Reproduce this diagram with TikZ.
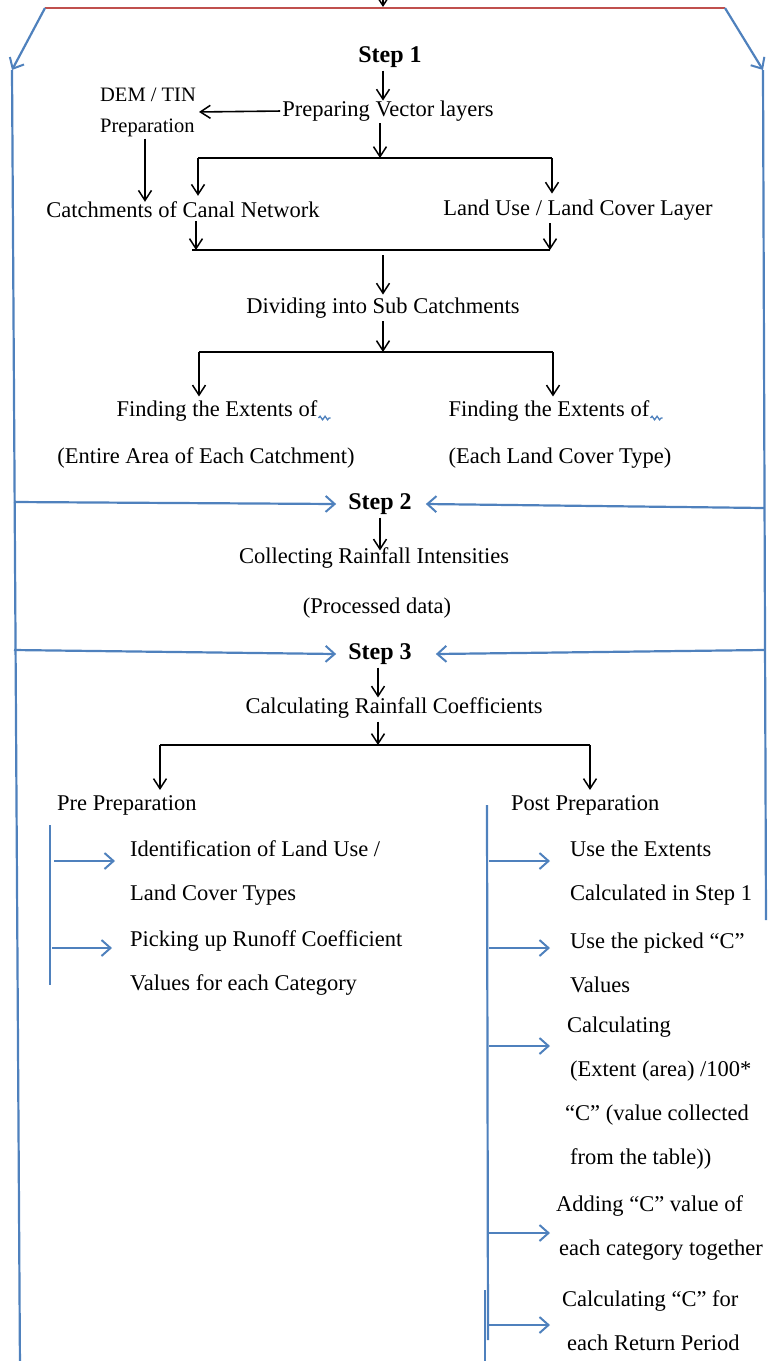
\documentclass[tikz,border=0pt]{standalone}
\usepackage{fontspec}
\setmainfont{Liberation Serif}
\usetikzlibrary{arrows.meta,decorations.pathmorphing}
\definecolor{flowblue}{RGB}{79,129,189}
\definecolor{flowred}{RGB}{192,80,77}

\begin{document}
\begin{tikzpicture}[x=1pt,y=-1pt,
  txt/.style={inner sep=0pt, yshift=-3pt, font=\fontsize{22.5}{44}\selectfont},
  txtl/.style={txt, anchor=west, align=left},
  stepbox/.style={inner sep=0pt, yshift=-2pt, font=\fontsize{24}{28}\selectfont\bfseries},
  arr/.style={line width=1.6pt, -{Straight Barb[length=10pt,width=13pt,line width=1.5pt]}},
  bar/.style={line width=2.4pt},
  barrow/.style={flowblue, line width=2.2pt, -{Straight Barb[length=9pt,width=16pt,line width=2pt]}},
  bline/.style={flowblue, line width=2.2pt},
  squig/.style={flowblue, line width=1.3pt, decorate, decoration={snake, amplitude=1.8pt, segment length=5pt}},
]
\useasboundingbox (0,0) rectangle (768,1361);

% ---------- text ----------
\node[stepbox] (step1) at (390,55) {Step 1};
\node[txt] (prep) at (388,108) {Preparing Vector layers};
\node[txt, align=left, font=\fontsize{20.5}{31}\selectfont] (dem) at (148,109) {DEM / TIN\\Preparation};
\node[txt] (catch) at (183,207) {Catchments of Canal Network};
\node[txt] (lulc) at (578,207) {Land Use / Land Cover Layer};
\node[txt] (divide) at (383,305) {Dividing into Sub Catchments};
\node[txt] (findL) at (217,408) {Finding the Extents of};
\node[txt] (findR) at (549,408) {Finding the Extents of};
\node[txt] (areaL) at (206,455) {(Entire Area of Each Catchment)};
\node[txt] (areaR) at (560,455) {(Each Land Cover Type)};
\node[stepbox] (step2) at (380,502) {Step 2};
\node[txt] (collect) at (374,555) {Collecting Rainfall Intensities};
\node[txt] (processed) at (377,605) {(Processed data)};
\node[stepbox] (step3) at (380,652) {Step 3};
\node[txt] (calc) at (394,705) {Calculating Rainfall Coefficients};
\node[txtl] (pre) at (57,802) {Pre Preparation};
\node[txtl] (post) at (511,802) {Post Preparation};
\node[txtl] (pre1) at (130,870) {Identification of Land Use /\\Land Cover Types};
\node[txtl] (pre2) at (130,960) {Picking up Runoff Coefficient\\Values for each Category};
\node[txtl] (post1) at (570,870) {Use the Extents\\Calculated in Step 1};
\node[txtl] (post2) at (570,960) {Use the picked “C”\\Values};
\node[txtl] (post3) at (565,1090) {\hspace*{2pt}Calculating\\\hspace*{5pt}(Extent (area) /100*\\“C” (value collected\\\hspace*{5pt}from the table))};
\node[txtl] (post4) at (556,1225) {Adding “C” value of\\\hspace*{3pt}each category together};
\node[txtl] (post5) at (562,1318) {Calculating “C” for\\\hspace*{5pt}each Return Period};

% spelling marks after "of"
\draw[squig] ([xshift=1pt,yshift=-7pt]findL.east) -- ++(12,0);
\draw[squig] ([xshift=1pt,yshift=-7pt]findR.east) -- ++(12,0);

% ---------- outer frame ----------
\coordinate (cx) at (383,0);
\coordinate (topin) at (383,-12);
\coordinate (topout) at (383,7);
\coordinate (redL) at (45,8);
\coordinate (redR) at (725,8);
\coordinate (lTop) at (12,70);
\coordinate (lBot) at (20,1370);
\coordinate (rTop) at (763,70);
\coordinate (rBot) at (766,920);
\draw[arr] (topin) -- (topout);
\draw[flowred, line width=2.4pt] (redL) -- (redR);
\draw[barrow] (redL) -- (lTop);
\draw[barrow] (redR) -- (rTop);
\draw[bline] (lTop) -- (lBot);
\draw[bline] (rTop) -- (rBot);

\coordinate (l2) at (14,502);
\coordinate (r2) at (764,508);
\coordinate (l3) at (14,650);
\coordinate (r3) at (764,650);
\draw[barrow] (l2) -- ([xshift=-12pt]step2.west);
\draw[barrow] (r2) -- ([xshift=14pt]step2.east);
\draw[barrow] (l3) -- ([xshift=-12pt]step3.west);
\draw[barrow] (r3) -- ([xshift=24pt]step3.east);

% ---------- step 1 ----------
\draw[arr, shorten <=3pt] (step1.south -| cx) -- (prep.north -| cx);
\draw[arr, shorten <=2pt, shorten >=3pt] (prep.west) -- (dem.east);
\draw[arr, shorten <=2pt] ([xshift=-3pt]dem.south) -- ([xshift=-3pt]dem.south |- catch.north);

\coordinate (b1l) at (198,158);
\coordinate (b1r) at (552,158);
\coordinate (b1m) at (380,158);
\draw[arr, shorten <=2pt] (prep.south -| b1m) -- (b1m);
\draw[bar] (b1l) -- (b1r);
\draw[arr, shorten >=6pt] (b1l) -- (b1l |- catch.north);
\draw[arr, shorten >=6pt] (b1r) -- (b1r |- lulc.north);

\coordinate (b2l) at (196,250);
\coordinate (b2r) at (550,250);
\draw[arr, shorten <=3pt] (catch.south -| b2l) -- (b2l);
\draw[arr, shorten <=3pt] (lulc.south -| b2r) -- (b2r);
\draw[bar] ([xshift=-4pt]b2l) -- (b2r);
\draw[arr, shorten <=5pt, shorten >=3pt] (b2l -| cx) -- (divide.north -| cx);

\coordinate (b3l) at (199,352);
\coordinate (b3r) at (553,352);
\draw[arr, shorten <=3pt] (divide.south -| cx) -- (b3l -| cx);
\draw[bar] (b3l) -- (b3r);
\draw[arr, shorten >=4pt] (b3l) -- (b3l |- findL.north);
\draw[arr, shorten >=4pt] (b3r) -- (b3r |- findR.north);

% ---------- step 2 and 3 ----------
\draw[arr, shorten <=3pt, shorten >=-3pt] (step2.south) -- (step2.south |- collect.north);
\draw[arr, shorten <=3pt] ([xshift=-2pt]step3.south) -- ([xshift=-2pt]step3.south |- calc.north);

\coordinate (b4l) at (160,745);
\coordinate (b4r) at (590,745);
\coordinate (b4m) at (378,745);
\draw[arr, shorten <=3pt] (calc.south -| b4m) -- (b4m);
\draw[bar] (b4l) -- (b4r);
\draw[arr, shorten >=5pt] (b4l) -- (b4l |- pre.north);
\draw[arr, shorten >=5pt] (b4r) -- (b4r |- post.north);

% ---------- pre preparation ----------
\coordinate (pl1) at (50,825);
\coordinate (pl2) at (50,985);
\coordinate (ptip) at (115,0);
\draw[bline] (pl1) -- (pl2);
\path (pre1.west) ++(0,-12) coordinate (pa1);
\path (pre2.west) ++(0,-15) coordinate (pa2);
\draw[barrow] ([xshift=4pt]pa1 -| pl1) -- (pa1 -| ptip);
\draw[barrow] ([xshift=2pt]pa2 -| pl1) -- ([xshift=-3pt]pa2 -| ptip);

% ---------- post preparation ----------
\coordinate (pr1) at (487,805);
\coordinate (pr2) at (488,1340);
\coordinate (pr3) at (485,1290);
\coordinate (pr4) at (485,1370);
\coordinate (qtip) at (550,0);
\draw[bline] (pr1) -- (pr2);
\draw[bline] (pr3) -- (pr4);
\path (post1.west) ++(0,-12) coordinate (qa1);
\path (post2.west) ++(0,-15) coordinate (qa2);
\path (post3.west) ++(0,-47) coordinate (qa3);
\path (post4.west) ++(0,5) coordinate (qa4);
\path (post5.west) ++(0,4) coordinate (qa5);
\foreach \q in {qa1,qa2,qa3,qa4,qa5}
  \draw[barrow] ([xshift=2pt]\q -| pr1) -- (\q -| qtip);
\end{tikzpicture}
\end{document}
